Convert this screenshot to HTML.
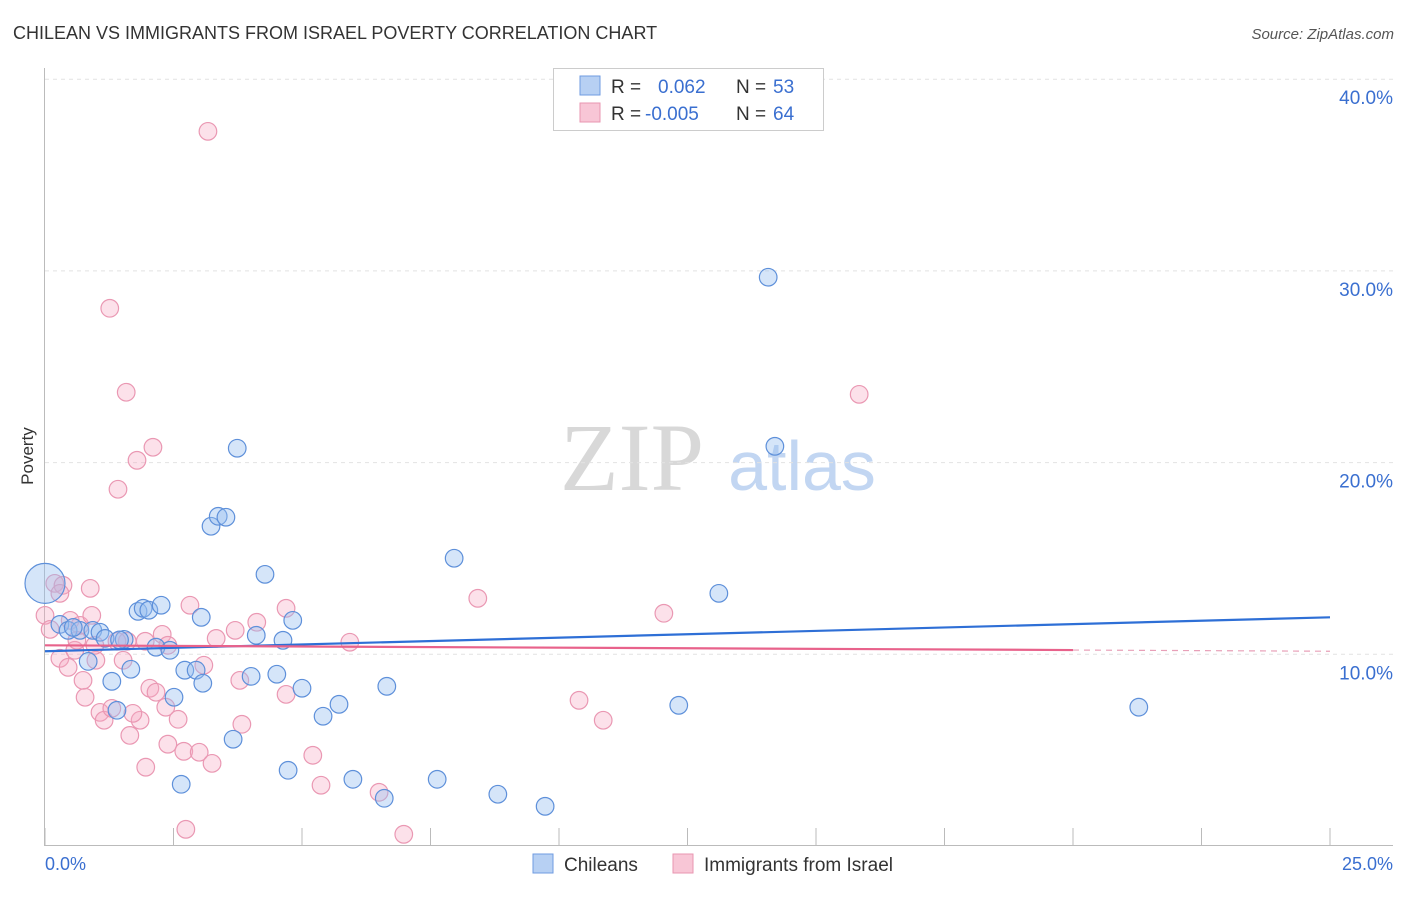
<!DOCTYPE html>
<html><head><meta charset="utf-8"><style>
body{margin:0;background:#fff;font-family:"Liberation Sans",sans-serif;}
svg text{font-family:"Liberation Sans",sans-serif;}
</style></head><body>
<svg id="chart" width="1406" height="892" viewBox="0 0 1406 892">
<text x="13" y="39" font-size="18" fill="#333">CHILEAN VS IMMIGRANTS FROM ISRAEL POVERTY CORRELATION CHART</text>
<text x="1394" y="39" font-size="15" fill="#555" font-style="italic" text-anchor="end">Source: ZipAtlas.com</text>
<text x="33" y="456" font-size="17" fill="#333" text-anchor="middle" transform="rotate(-90 33 456)">Poverty</text>
<g>
<text x="632" y="490" font-size="96" fill="#d8d8d8" text-anchor="middle" style="font-family:'Liberation Serif',serif">ZIP</text>
<text x="802" y="490" font-size="70" fill="#c2d6f2" text-anchor="middle">atlas</text>
</g>
<g id="grid"></g><g id="axes"></g><g id="marks"></g>
<g>
<rect x="553.5" y="68.5" width="270" height="62" fill="#fff" stroke="#ccc"/>
<rect x="580" y="76" width="20" height="19" fill="#b7d0f3" stroke="#6f9be0"/>
<rect x="580" y="103" width="20" height="19" fill="#f8c6d6" stroke="#e896b0"/>
<text x="611" y="93" font-size="19" fill="#333">R = </text><text x="658" y="93" font-size="19" fill="#3a6fd0">0.062</text>
<text x="736" y="93" font-size="19" fill="#333">N = </text><text x="773" y="93" font-size="19" fill="#3a6fd0">53</text>
<text x="611" y="120" font-size="19" fill="#333">R = </text><text x="645" y="120" font-size="19" fill="#3a6fd0">-0.005</text>
<text x="736" y="120" font-size="19" fill="#333">N = </text><text x="773" y="120" font-size="19" fill="#3a6fd0">64</text>
</g>
<g>
<rect x="533" y="854" width="20" height="19" fill="#b7d0f3" stroke="#6f9be0"/>
<text x="564" y="871" font-size="19" fill="#333">Chileans</text>
<rect x="673" y="854" width="20" height="19" fill="#f8c6d6" stroke="#e896b0"/>
<text x="704" y="871" font-size="19" fill="#333">Immigrants from Israel</text>
</g>
</svg>
<script>
const yTicks=[10,20,30,40];
const yTickLabels=["10.0%","20.0%","30.0%","40.0%"];
const xTickLabels=["0.0%","25.0%"];
const chileX=[0,0.29,0.45,0.68,0.93,1.07,1.17,1.54,1.30,0.84,1.40,1.67,1.81,1.91,2.02,2.26,2.16,2.43,2.51,2.72,2.94,3.07,3.04,3.23,3.37,3.52,3.74,3.66,4.11,4.01,4.28,4.63,4.51,4.82,5.00,4.73,5.41,5.72,5.99,6.60,6.65,7.63,7.96,8.81,9.73,12.33,13.11,14.07,14.20,21.28,2.65,1.45,0.55];
const chileY=[13.70,11.56,11.25,11.25,11.25,11.15,10.83,10.78,8.59,9.63,7.08,9.22,12.24,12.40,12.30,12.56,10.37,10.21,7.76,9.17,9.17,8.49,11.93,16.68,17.20,17.15,20.75,5.57,10.99,8.85,14.17,10.73,8.96,11.77,8.23,3.95,6.77,7.39,3.48,2.49,8.33,3.48,15.01,2.70,2.07,7.34,13.18,29.67,20.85,7.24,3.22,10.75,11.4];
const israelX=[0,0.19,0.35,0.49,0.29,0.45,0.58,0.68,0.78,0.74,0.91,0.88,0.99,1.07,1.15,1.26,1.42,1.58,1.60,1.52,1.79,2.10,1.85,1.71,1.65,1.30,1.95,1.96,2.04,2.16,2.28,2.35,2.39,2.59,2.70,2.82,3.00,3.09,3.17,3.25,3.33,3.70,3.79,3.83,4.12,4.69,4.69,5.21,5.37,5.93,6.50,6.98,8.42,10.39,10.86,12.04,15.84,2.74,1.40,0.62,0.97,2.39,0.29,0.10];
const israelY=[12.03,13.70,13.60,11.77,9.79,9.32,10.21,11.51,7.76,8.64,12.03,13.44,9.69,6.97,6.56,28.05,18.61,23.67,10.68,9.69,20.12,20.80,6.56,6.92,5.77,7.18,10.68,4.11,8.23,8.02,11.04,7.24,5.31,6.61,4.94,12.56,4.89,9.43,37.28,4.31,10.83,11.25,8.64,6.35,11.67,12.40,7.91,4.73,3.17,10.63,2.80,0.61,12.92,7.60,6.56,12.14,23.56,0.87,10.68,10.73,10.47,10.47,13.18,11.3];
const chileTrend=[10.16,11.93];
const israelTrend=[10.47,10.16];
const NS="http://www.w3.org/2000/svg";
const X0=45,X1=1330,Y0=846,PXY=19.17;
function sx(v){return X0+v*(X1-X0)/25;}
function sy(v){return Y0-v*PXY;}
function mk(tag,attrs,parent){const e=document.createElementNS(NS,tag);for(const k in attrs)e.setAttribute(k,attrs[k]);parent.appendChild(e);return e;}
const grid=document.getElementById('grid'),axes=document.getElementById('axes'),marks=document.getElementById('marks');
yTicks.forEach((t,i)=>{
 const l=mk('line',{x1:45,x2:1393,y1:sy(t),y2:sy(t),stroke:'#e2e2e2','stroke-dasharray':'4 4'},grid);
 
 
 const tx=mk('text',{x:1393,y:sy(t)+25,'font-size':19,fill:'#3a6fd0','text-anchor':'end'},axes);
 tx.textContent=yTickLabels[i];
 
 
});
const la=mk('line',{x1:44.5,x2:44.5,y1:68,y2:846,stroke:'#bbb'},axes);


const lb=mk('line',{x1:44,x2:1393,y1:845.5,y2:845.5,stroke:'#bbb'},axes);


for(let i=0;i<=10;i++){
 const v=i*2.5;
 const t=mk('line',{x1:sx(v),x2:sx(v),y1:828,y2:846,stroke:'#bbb'},axes);
 
 
}
const xl0=mk('text',{x:45,y:870,'font-size':18,fill:'#3a6fd0'},axes);xl0.textContent=xTickLabels[0];


const xl1=mk('text',{x:1393,y:870,'font-size':18,fill:'#3a6fd0','text-anchor':'end'},axes);xl1.textContent=xTickLabels[1];


israelX.forEach((x,i)=>{
 const c=mk('circle',{cx:sx(x),cy:sy(israelY[i]),r:8.8,fill:'rgba(245,170,195,0.35)',stroke:'#ea98b3','stroke-width':1.2},marks);
 
 
});
chileX.forEach((x,i)=>{
 const c=mk('circle',{cx:sx(x),cy:sy(chileY[i]),r:i===0?20:8.8,fill:'rgba(150,190,240,0.4)',stroke:'#5e90da','stroke-width':1.2},marks);
 
 
});
const tb=mk('line',{x1:sx(0),y1:sy(chileTrend[0]),x2:sx(25),y2:sy(chileTrend[1]),stroke:'#2e6fd6','stroke-width':2.2},marks);


const pm=israelTrend[0]+(israelTrend[1]-israelTrend[0])*0.8;
const tp=mk('line',{x1:sx(0),y1:sy(israelTrend[0]),x2:sx(20),y2:sy(pm),stroke:'#e8628b','stroke-width':2.2},marks);


const tpd=mk('line',{x1:sx(20),y1:sy(pm),x2:sx(25),y2:sy(israelTrend[1]),stroke:'#e8a0b8','stroke-width':1.2,'stroke-dasharray':'6 5'},marks);


</script>
</body></html>
